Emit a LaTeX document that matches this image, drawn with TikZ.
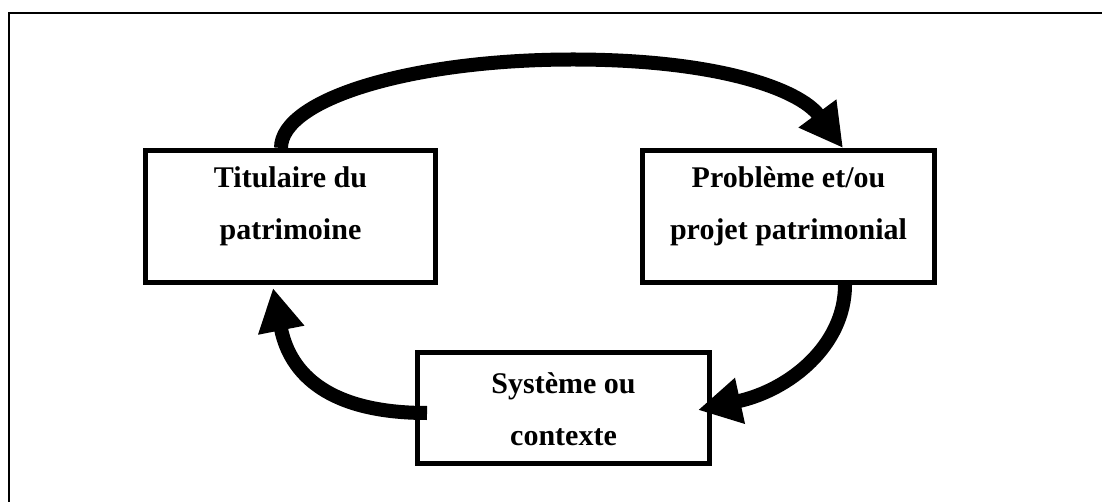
\documentclass[tikz,border=0pt]{standalone}
\usepackage{fontspec}
\setmainfont{Liberation Serif}
\usetikzlibrary{arrows.meta}

\tikzset{
  box/.style={draw, line width=5pt, align=center, font=\bfseries\fontsize{30pt}{52pt}\selectfont,
    inner ysep=17.5pt, text height=72pt},
  loop/.style={line width=14pt, -{Triangle[length=43pt,width=44pt]}}
}

\begin{document}
\begin{tikzpicture}[x=1pt,y=-1pt]
      \useasboundingbox (0,0) rectangle (1102,502);
      \draw[line width=2.5pt] (9,505) |- (1105,13);

      \node[box, minimum width=290pt, text depth=25pt] (tit) at (290.5,216.5) {Titulaire du\\patrimoine};
      \node[box, minimum width=292pt, text depth=25pt] (pro) at (788.5,216.5) {Problème et/ou\\projet patrimonial};
      \node[box, minimum width=292pt, text height=75pt, text depth=1pt] (sys) at (563.5,408) {Système ou\\contexte};

      \draw[loop] ([xshift=-9.5pt]tit.north) .. controls +(0,-49) and (412,59.5) .. (573,59.5)
        .. controls (720,59.5) and (800,90) .. ([xshift=54.5pt]pro.north);
      \draw[loop] ([xshift=56.5pt]pro.south) .. controls +(0,60) and (790,390) .. ([xshift=-14pt,yshift=-2pt]sys.east);
      \draw[loop] ([xshift=12pt,yshift=-5pt]sys.west) .. controls +(-97,0) and (290,375) .. ([xshift=-17.5pt,yshift=-3pt]tit.south);
    \end{tikzpicture}
\end{document}
